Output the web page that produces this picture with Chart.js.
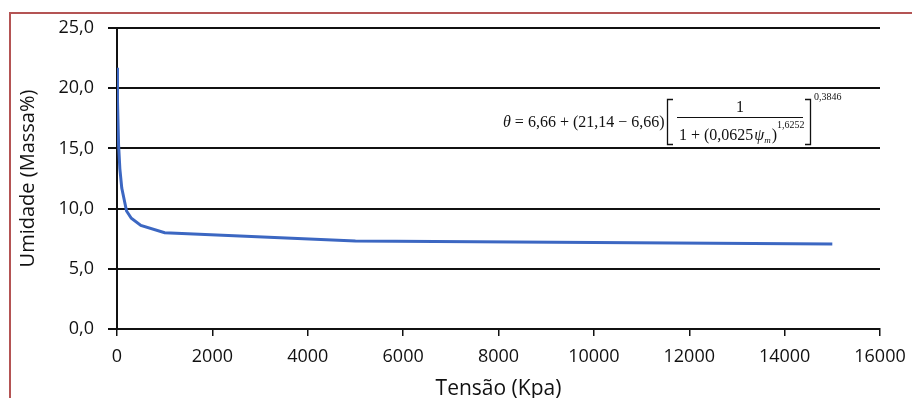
<!DOCTYPE html>
<html>
<head>
<meta charset="utf-8">
<script src="https://cdn.jsdelivr.net/npm/chart.js@4.4.0/dist/chart.umd.min.js"></script>
<style>
  html, body { margin: 0; padding: 0; background: #fff; overflow: hidden; }
  #wrap { position: relative; width: 912px; height: 398px; }
  #frame { position: absolute; left: 9px; top: 12px; width: 1000px; height: 500px; border: 2px solid #b45454; box-sizing: border-box; }
  canvas { position: absolute; left: 0; top: 0; }
</style>
</head>
<body>
<div id="wrap">
  <div id="frame"></div>
  <canvas id="grafico" width="912" height="398"></canvas>
</div>
<script>
// valores
const tensao = [0, 10, 33, 60, 100, 200, 300, 500, 1000, 5000, 15000];
const umidade = [21.7, 19.0, 15.3, 13.3, 11.7, 9.8, 9.2, 8.6, 8.0, 7.3, 7.05];
const yTicks = [0, 5, 10, 15, 20, 25];
const xTicks = [0, 2000, 4000, 6000, 8000, 10000, 12000, 14000, 16000];

const pontos = tensao.map((t, i) => ({ x: t, y: umidade[i] }));

// equacao desenhada por cima do grafico
const equacao = {
  id: "equacao",
  afterDraw(chart) {
    const ctx = chart.ctx;
    ctx.save();
    ctx.fillStyle = "#111";
    ctx.strokeStyle = "#111";
    ctx.textBaseline = "alphabetic";
    let x = 503;
    ctx.font = "italic 16px 'Liberation Serif'";
    ctx.fillText("θ", x, 127);
    x += ctx.measureText("θ").width;
    ctx.font = "16px 'Liberation Serif'";
    const t1 = " = 6,66 + (21,14 − 6,66)";
    ctx.fillText(t1, x, 127);
    // colchetes
    ctx.lineWidth = 1.3;
    ctx.beginPath();
    ctx.moveTo(673, 99.5); ctx.lineTo(667.5, 99.5); ctx.lineTo(667.5, 144.5); ctx.lineTo(673, 144.5);
    ctx.moveTo(805, 99.5); ctx.lineTo(810.5, 99.5); ctx.lineTo(810.5, 144.5); ctx.lineTo(805, 144.5);
    ctx.stroke();
    // fracao
    ctx.lineWidth = 1;
    ctx.beginPath();
    ctx.moveTo(677, 117.5); ctx.lineTo(803, 117.5);
    ctx.stroke();
    ctx.fillText("1", 736, 112);
    x = 679;
    const t2 = "1 + (0,0625";
    ctx.fillText(t2, x, 140);
    x += ctx.measureText(t2).width + 1;
    ctx.font = "italic 16px 'Liberation Serif'";
    ctx.fillText("ψ", x, 140);
    x += ctx.measureText("ψ").width;
    ctx.font = "italic 9px 'Liberation Serif'";
    ctx.fillText("m", x, 143);
    x += ctx.measureText("m").width + 1;
    ctx.font = "16px 'Liberation Serif'";
    ctx.fillText(")", x, 140);
    x += ctx.measureText(")").width;
    ctx.font = "10px 'Liberation Serif'";
    ctx.fillText("1,6252", x, 128);
    ctx.fillText("0,3846", 814, 100);
    ctx.restore();
  }
};

new Chart(document.getElementById("grafico"), {
  type: "line",
  data: {
    datasets: [{
      data: pontos,
      borderColor: "#3c67c2",
      borderWidth: 3,
      pointRadius: 0,
      fill: false,
      tension: 0
    }]
  },
  options: {
    responsive: false,
    animation: false,
    layout: { padding: { left: 0, right: 32, top: 28, bottom: 0 } },
    plugins: { legend: { display: false }, tooltip: { enabled: false } },
    scales: {
      x: {
        type: "linear",
        min: 0,
        max: 16000,
        afterBuildTicks: (axis) => { axis.ticks = xTicks.map(v => ({ value: v })); },
        grid: { drawOnChartArea: false, drawTicks: true, tickLength: 7, color: "#111", lineWidth: 1.5 },
        border: { color: "#111", width: 2 },
        ticks: { color: "#111", font: { family: "Open Sans", size: 18 }, padding: 10, maxRotation: 0,
          callback: (v) => String(v) },
        title: { display: true, text: "Tensão (Kpa)", color: "#111", font: { family: "Open Sans", size: 21 }, padding: { top: 0, bottom: -4 } },
        afterFit: (axis) => { axis.height = 69; axis.paddingLeft = 0; axis.paddingRight = 0; }
      },
      y: {
        min: 0,
        max: 25,
        afterBuildTicks: (axis) => { axis.ticks = yTicks.map(v => ({ value: v })); },
        grid: { color: "#111", lineWidth: 2, tickLength: 9 },
        border: { color: "#111", width: 2 },
        ticks: { color: "#111", font: { family: "Open Sans", size: 18 }, padding: 14,
          callback: (v) => v.toFixed(1).replace(".", ",") },
        title: { display: true, text: "Umidade (Massa%)", color: "#111", font: { family: "Open Sans", size: 20 }, padding: { top: 16, bottom: 0 } },
        afterFit: (axis) => { axis.width = 117; }
      }
    }
  },
  plugins: [equacao]
});
</script>
</body>
</html>
